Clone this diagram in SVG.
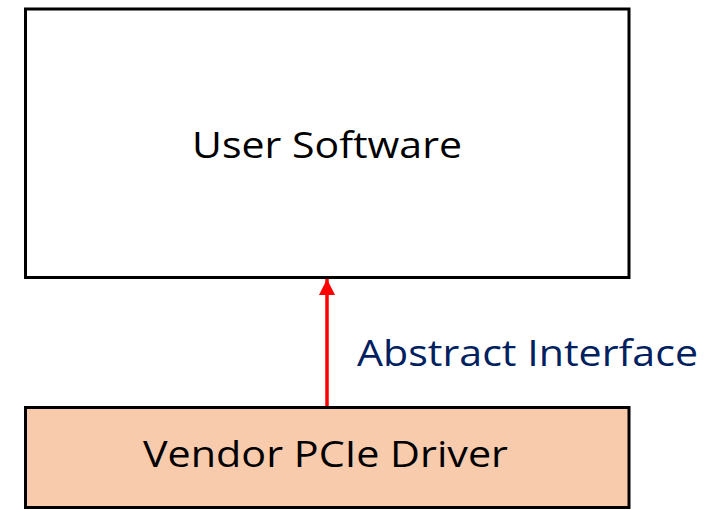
<svg xmlns="http://www.w3.org/2000/svg" width="725" height="510" viewBox="0 0 725 510">
<style>
.box{stroke:#000;stroke-width:3}
.lbl{font-family:"Open Sans","Liberation Sans",sans-serif;font-size:36px}
</style>
<defs>
<marker id="ah" markerUnits="userSpaceOnUse" markerWidth="17" markerHeight="17" refX="16" refY="8" orient="auto">
<path d="M0,0 L16,8 L0,16 Z" fill="#FF0000"/>
</marker>
</defs>
<rect width="725" height="510" fill="#fff"/>
<g id="connectors">
<line x1="327" y1="406" x2="327" y2="279" stroke="#FF0000" stroke-width="3.5" marker-end="url(#ah)"/>
<text class="lbl" x="357" y="366" fill="#002060" textLength="341" lengthAdjust="spacingAndGlyphs">Abstract Interface</text>
</g>
<g id="user-software">
<rect class="box" x="25.5" y="9" width="603.5" height="268.5" fill="#fff"/>
<text class="lbl" x="327" y="158" text-anchor="middle" fill="#000" textLength="270" lengthAdjust="spacingAndGlyphs">User Software</text>
</g>
<g id="vendor-driver">
<rect class="box" x="25.5" y="407.5" width="603.5" height="100" fill="#F8CBAD"/>
<text class="lbl" x="325.5" y="467" text-anchor="middle" fill="#000" textLength="365" lengthAdjust="spacingAndGlyphs">Vendor PCIe Driver</text>
</g>
</svg>
